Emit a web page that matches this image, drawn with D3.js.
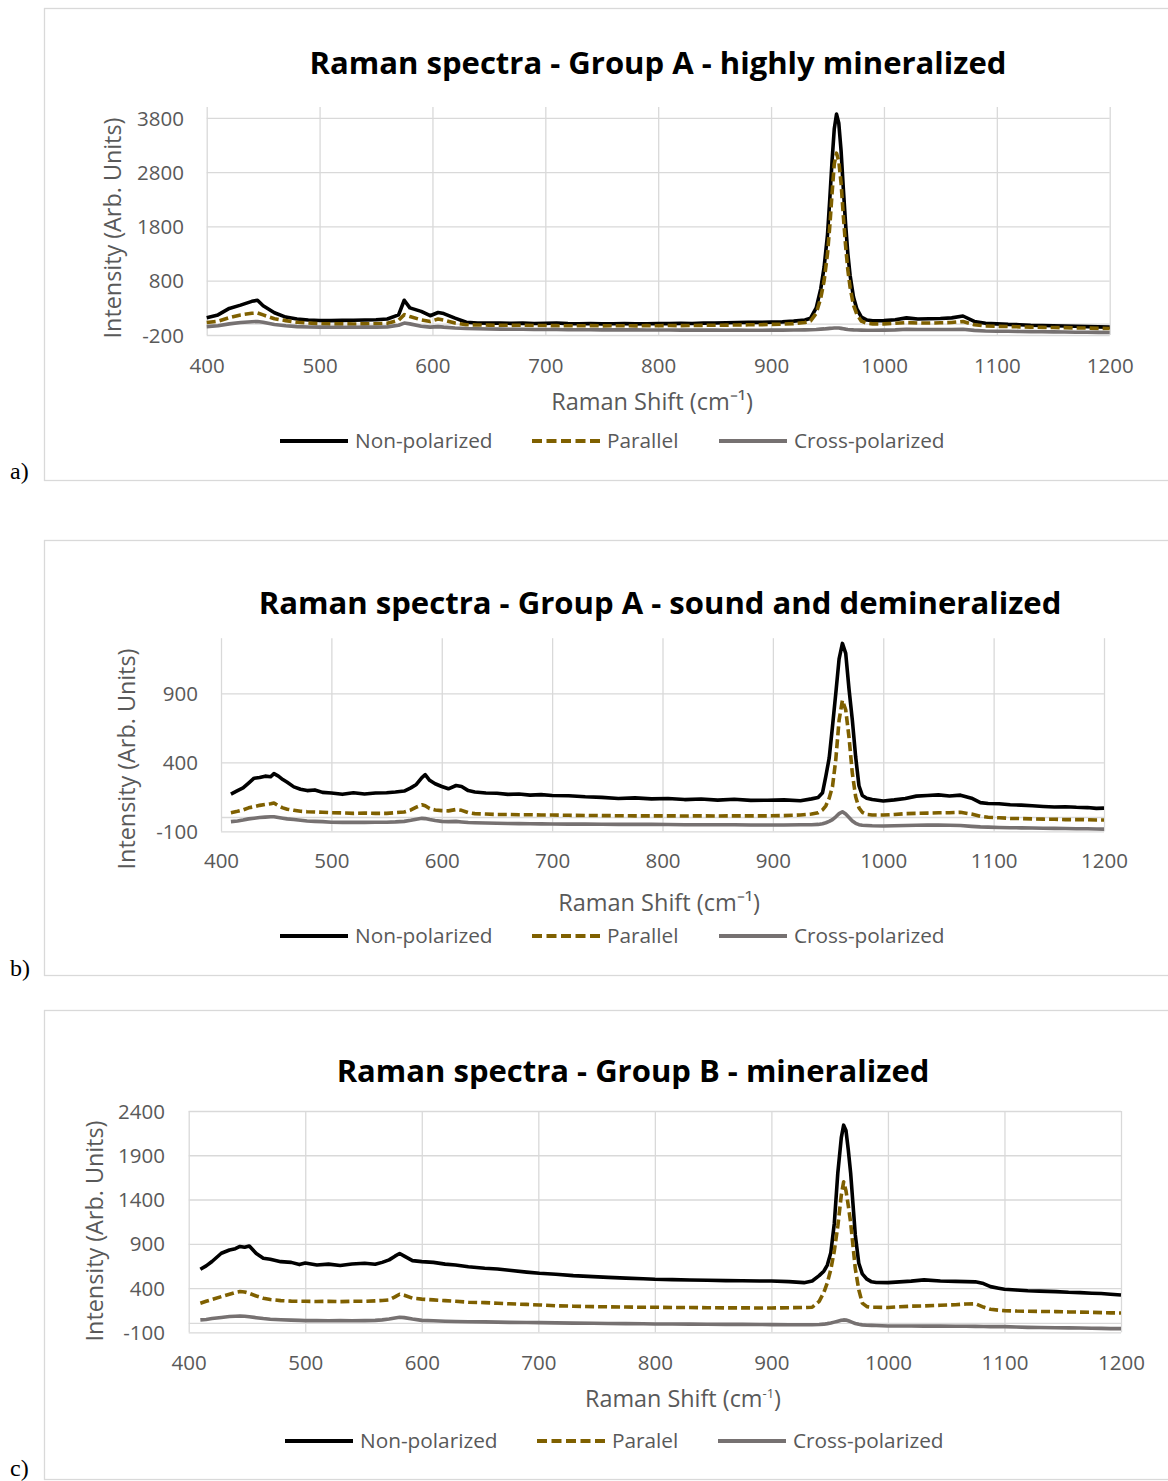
<!DOCTYPE html>
<html>
<head>
<meta charset="utf-8">
<style>
  body { margin: 0; background: #fff; }
  svg { display: block; }
  text { font-family: "Open Sans", sans-serif; fill: #595959; }
  .grid line { stroke: #d9d9d9; stroke-width: 1.3; }
  .title { fill: #000; font-weight: bold; }
  .panel-label { font-family: "Liberation Serif", serif; fill: #000; }
</style>
</head>
<body>
<script src="https://d3js.org/d3.v7.min.js"></script>
<script>
// ---- tick labels ----
var xTicks = [400, 500, 600, 700, 800, 900, 1000, 1100, 1200];
var yTicksA = [-200, 800, 1800, 2800, 3800];
var yTicksB = [-100, 400, 900];
var yTicksC = [-100, 400, 900, 1400, 1900, 2400];

// ---- panel a : Group A - highly mineralized ----
var shiftA = [
  400, 410, 420, 430, 440, 445, 450, 460, 470, 480,
  490, 500, 510, 520, 530, 540, 550, 560, 570, 575,
  580, 590, 598, 605, 610, 620, 630, 640, 650, 660,
  670, 680, 690, 700, 710, 720, 730, 740, 750, 760,
  770, 780, 790, 800, 810, 820, 830, 840, 850, 860,
  870, 880, 890, 900, 910, 920, 930, 935, 940, 944,
  947, 950, 952, 954, 956, 958, 960, 962, 964, 966,
  968, 970, 973, 976, 980, 985, 990, 1000, 1010, 1020,
  1030, 1040, 1050, 1060, 1070, 1080, 1090, 1100, 1110, 1120,
  1130, 1140, 1150, 1160, 1170, 1180, 1190, 1200];
var nonPolA = [
  120, 170, 290, 350, 420, 440, 340, 210, 130, 95,
  75, 68, 65, 70, 72, 75, 80, 95, 170, 440,
  300, 235, 155, 215, 195, 110, 35, 22, 18, 20,
  15, 18, 12, 15, 20, 10, 8, 12, 5, 8,
  10, 5, 8, 12, 10, 15, 12, 18, 22, 25,
  30, 35, 32, 38, 42, 55, 75, 110, 300, 650,
  1050, 1650, 2300, 3000, 3600, 3870, 3700, 3200, 2500, 1850,
  1300, 900, 500, 280, 130, 75, 62, 65, 80, 115,
  95, 100, 105, 115, 150, 50, 15, 5, -5, -10,
  -20, -25, -30, -35, -40, -45, -50, -55];
var parA = [
  30, 55, 120, 170, 200, 205, 170, 100, 65, 35,
  20, 8, 5, 5, 3, 5, 8, 15, 70, 175,
  140, 80, 50, 95, 75, 20, -10, -15, -18, -20,
  -22, -20, -25, -25, -28, -30, -30, -28, -32, -30,
  -30, -32, -28, -30, -25, -28, -25, -22, -20, -18,
  -15, -12, -10, -5, 0, 10, 30, 60, 200, 480,
  800, 1300, 1800, 2400, 2950, 3150, 3000, 2600, 2000, 1450,
  1000, 680, 350, 180, 55, 15, 5, 5, 15, 30,
  22, 20, 25, 30, 50, -10, -35, -40, -45, -50,
  -55, -60, -62, -65, -70, -72, -78, -80];
var crossA = [
  -45, -30, 5, 30, 45, 50, 35, -5, -30, -45,
  -52, -55, -56, -58, -56, -55, -55, -50, -20, 20,
  5, -40, -55, -45, -55, -70, -80, -85, -90, -92,
  -95, -95, -98, -100, -100, -102, -102, -104, -105, -105,
  -106, -106, -108, -108, -108, -110, -110, -110, -110, -112,
  -110, -112, -112, -110, -110, -108, -105, -102, -98, -92,
  -88, -82, -78, -75, -72, -70, -72, -78, -85, -92,
  -98, -102, -106, -108, -110, -112, -112, -110, -105, -95,
  -98, -100, -100, -98, -95, -115, -125, -130, -132, -135,
  -138, -140, -142, -145, -148, -150, -152, -155];

// ---- panel b : Group A - sound and demineralized ----
var shiftB = [
  409, 415, 420, 425, 430, 435, 440, 445, 448, 452,
  456, 460, 466, 472, 478, 485, 492, 500, 510, 520,
  530, 540, 550, 558, 566, 572, 577, 582, 585, 589,
  594, 600, 606, 613, 618, 624, 630, 640, 650, 660,
  670, 680, 690, 700, 715, 730, 745, 760, 775, 790,
  805, 820, 835, 850, 865, 880, 895, 910, 925, 935,
  941, 945, 948, 951, 954, 957, 960, 963, 966, 969,
  972, 975, 978, 981, 985, 990, 1000, 1010, 1020, 1030,
  1040, 1050, 1060, 1070, 1080, 1088, 1095, 1105, 1115, 1125,
  1135, 1145, 1155, 1165, 1175, 1185, 1193, 1200];
var nonPolB = [
  170, 195, 215, 250, 285, 290, 300, 295, 318, 300,
  275, 255, 222, 205, 195, 200, 182, 178, 168, 180,
  170, 178, 180, 185, 192, 215, 240, 290, 310, 270,
  245, 225, 208, 232, 225, 195, 185, 178, 176, 168,
  170, 162, 166, 160, 158, 150, 146, 138, 142, 135,
  138, 130, 134, 126, 132, 124, 125, 128, 122, 135,
  145, 180, 300, 430, 660, 900, 1150, 1262, 1190, 930,
  706, 440, 230, 160, 140, 130, 120, 128, 138, 155,
  160, 164, 156, 162, 140, 108, 102, 100, 92, 90,
  85, 80, 76, 78, 74, 72, 66, 68];
var parB = [
  35, 45, 55, 70, 78, 88, 95, 100, 105, 85,
  70, 60, 52, 45, 42, 40, 38, 35, 33, 30,
  32, 30, 30, 35, 40, 55, 75, 92, 85, 65,
  55, 50, 48, 58, 52, 35, 28, 25, 22, 22,
  20, 20, 18, 18, 16, 15, 14, 13, 12, 12,
  12, 11, 12, 11, 12, 12, 12, 14, 18, 25,
  35, 55, 85, 140, 223, 420, 706, 850, 780, 580,
  320, 150, 70, 38, 22, 18, 18, 22, 28, 30,
  32, 34, 35, 38, 25, 8, 2, -2, -6, -8,
  -10, -12, -13, -15, -15, -16, -18, -18];
var crossB = [
  -30, -25, -18, -10, -5, 0, 3, 6, 5, 0,
  -5, -10, -15, -20, -25, -28, -30, -34, -35, -34,
  -35, -34, -34, -32, -28, -20, -12, -6, -8, -15,
  -22, -28, -30, -28, -32, -36, -38, -40, -42, -43,
  -44, -45, -46, -47, -48, -48, -49, -50, -50, -50,
  -51, -52, -52, -53, -53, -54, -54, -54, -53, -52,
  -50, -45, -38, -28, -15, 5, 28, 42, 25, 0,
  -25, -42, -52, -56, -58, -60, -62, -60, -58, -56,
  -55, -55, -56, -58, -64, -68, -70, -72, -74, -75,
  -76, -78, -79, -80, -81, -82, -83, -84];

// ---- panel c : Group B - mineralized ----
var shiftC = [
  410, 415, 420, 428, 435, 440, 444, 448, 452, 458,
  464, 470, 479, 488, 495, 500, 510, 520, 530, 540,
  551, 560, 566, 572, 577, 581, 585, 592, 600, 610,
  620, 629, 640, 654, 665, 675, 690, 701, 715, 730,
  747, 760, 775, 790, 800, 815, 830, 845, 861, 875,
  890, 900, 915, 928, 935, 941, 945, 948, 951, 954,
  957, 960, 962, 964, 966, 968, 970, 972, 975, 978,
  982, 986, 990, 1000, 1010, 1020, 1031, 1045, 1058, 1067,
  1075, 1082, 1088, 1095, 1100, 1110, 1120, 1130, 1144, 1155,
  1165, 1175, 1183, 1191, 1200];
var nonPolC = [
  612, 650, 700, 793, 830, 845, 870, 860, 875, 790,
  737, 725, 698, 690, 665, 682, 660, 670, 655, 672,
  680, 668, 690, 718, 760, 790, 760, 710, 698, 690,
  670, 661, 640, 624, 615, 600, 580, 567, 555, 540,
  529, 520, 512, 505, 499, 495, 490, 488, 484, 482,
  480, 480, 472, 461, 480, 540, 590, 660, 800, 1132,
  1700, 2100, 2240, 2180, 1960, 1700, 1350, 1000, 680, 560,
  500, 470, 462, 461, 470, 478, 492, 480, 475, 473,
  470, 450, 416, 398, 386, 378, 370, 365, 360, 352,
  348, 342, 338, 330, 322];
var parC = [
  228, 250, 270, 303, 330, 350, 360, 355, 340, 310,
  285, 270, 258, 252, 250, 250, 248, 250, 246, 250,
  250, 255, 260, 266, 300, 330, 318, 285, 275, 266,
  258, 250, 240, 235, 228, 222, 215, 209, 200, 195,
  190, 188, 185, 183, 183, 180, 180, 178, 176, 176,
  175, 175, 178, 180, 183, 250, 350, 460, 610, 820,
  1100, 1450, 1600, 1500, 1330, 1140, 880, 620, 380, 230,
  190, 183, 183, 180, 188, 195, 198, 205, 212, 220,
  222, 185, 160, 150, 145, 140, 138, 136, 134, 130,
  128, 125, 122, 120, 118];
var crossC = [
  40, 45, 55, 68, 78, 82, 85, 82, 75, 65,
  55, 47, 42, 38, 35, 32, 32, 30, 32, 30,
  32, 35, 40, 50, 62, 70, 66, 50, 35, 30,
  25, 22, 20, 18, 15, 12, 10, 9, 6, 4,
  2, 0, -2, -4, -6, -7, -8, -9, -10, -11,
  -12, -13, -14, -15, -14, -12, -8, -2, 5, 15,
  25, 35, 40, 38, 30, 20, 10, 0, -10, -16,
  -20, -22, -24, -28, -28, -28, -30, -30, -32, -32,
  -33, -35, -36, -36, -36, -40, -44, -46, -48, -50,
  -52, -54, -56, -58, -59];

var namesAB = ["Non-polarized", "Parallel", "Cross-polarized"];
var namesC = ["Non-polarized", "Paralel", "Cross-polarized"];

// line styles for the three series (black, dark gold dashed, grey)
var styles = [
  {color: "#000000", width: 3.6, dash: null},
  {color: "#7f6000", width: 3.6, dash: "9,4"},
  {color: "#767171", width: 3.6, dash: null}
];

var panels = [
  {label: "a)", labelY: 479, box: [8, 480],
   title: "Raman spectra - Group A - highly mineralized", titleX: 658, titleY: 63, titleW: 697,
   plot: {left: 206.7, right: 1109.7, top: 107, bottom: 335}, yDomain: [-200, 4000], yTicks: yTicksA,
   yLabelRight: 184, xLabelY: 366, xTitle: "a", xTitleX: 652, xTitleY: 402, yTitleX: 113, yTitleY: 228,
   legendY: 441, legendX: [280, 532, 719], names: namesAB,
   x: shiftA, series: [nonPolA, parA, crossA]},
  {label: "b)", labelY: 976, box: [540, 975],
   title: "Raman spectra - Group A - sound and demineralized", titleX: 660, titleY: 603, titleW: 803,
   plot: {left: 221, right: 1104, top: 638.2, bottom: 831.3}, yDomain: [-100, 1300], yTicks: yTicksB,
   yLabelRight: 198, xLabelY: 861, xTitle: "a", xTitleX: 659, xTitleY: 903, yTitleX: 127, yTitleY: 759,
   legendY: 936, legendX: [280, 532, 719], names: namesAB,
   x: shiftB, series: [nonPolB, parB, crossB]},
  {label: "c)", labelY: 1476, box: [1010, 1479],
   title: "Raman spectra - Group B - mineralized", titleX: 633, titleY: 1071, titleW: 593,
   plot: {left: 188.7, right: 1121, top: 1111, bottom: 1332.3}, yDomain: [-100, 2400], yTicks: yTicksC,
   yLabelRight: 165, xLabelY: 1363, xTitle: "c", xTitleX: 683, xTitleY: 1399, yTitleX: 95, yTitleY: 1231,
   legendY: 1441, legendX: [285, 537, 718], names: namesC,
   x: shiftC, series: [nonPolC, parC, crossC]}
];

var svg = d3.select("body").append("svg")
    .attr("width", 1168)
    .attr("height", 1481);

// scale a text's font size so that it spans the wanted width
function fitWidth(t, w) {
  var len = t.node().getComputedTextLength();
  var fs = parseFloat(t.attr("font-size"));
  t.attr("font-size", (fs * w / len).toFixed(2));
}

panels.forEach(function(p) {
  var g = svg.append("g");

  // chart area border
  g.append("rect")
      .attr("x", 44.5).attr("y", p.box[0] + 0.5)
      .attr("width", 1140).attr("height", p.box[1] - p.box[0])
      .attr("fill", "none").attr("stroke", "#d9d9d9").attr("stroke-width", 1.3);

  g.append("text").attr("class", "panel-label")
      .attr("x", 10).attr("y", p.labelY)
      .attr("font-size", 24)
      .text(p.label);

  var x = d3.scaleLinear().domain([400, 1200]).range([p.plot.left, p.plot.right]);
  var y = d3.scaleLinear().domain(p.yDomain).range([p.plot.bottom, p.plot.top]);
  var pw = p.plot.right - p.plot.left, ph = p.plot.bottom - p.plot.top;

  // gridlines
  g.append("g").attr("class", "grid")
      .attr("transform", "translate(0," + p.plot.bottom + ")")
      .call(d3.axisBottom(x).tickValues(xTicks).tickSize(-ph).tickFormat(""))
      .call(function(a) { a.select(".domain").remove(); });
  g.append("g").attr("class", "grid")
      .attr("transform", "translate(" + p.plot.left + ",0)")
      .call(d3.axisLeft(y).tickValues(p.yTicks).tickSize(-pw).tickFormat(""))
      .call(function(a) { a.select(".domain").remove(); });

  // horizontal axis line crosses at 0
  g.append("line")
      .attr("x1", p.plot.left).attr("x2", p.plot.right)
      .attr("y1", y(0)).attr("y2", y(0))
      .attr("stroke", "#d9d9d9").attr("stroke-width", 1.3);

  // tick labels (plain numbers, hyphen minus)
  var plain = function(d) { return String(d); };
  var yAx = g.append("g")
      .attr("transform", "translate(" + p.plot.left + ",0)")
      .call(d3.axisLeft(y).tickValues(p.yTicks).tickSize(0)
          .tickPadding(p.plot.left - p.yLabelRight).tickFormat(plain))
      .attr("font-family", null).attr("font-size", 20.5);
  yAx.select(".domain").remove();
  yAx.selectAll("text").attr("fill", "#595959").attr("dy", "0.35em");

  var xAx = g.append("g")
      .attr("transform", "translate(0," + p.plot.bottom + ")")
      .call(d3.axisBottom(x).tickValues(xTicks).tickSize(0)
          .tickPadding(p.xLabelY - p.plot.bottom).tickFormat(plain))
      .attr("font-family", null).attr("font-size", 20.5);
  xAx.select(".domain").remove();
  xAx.selectAll("text").attr("fill", "#595959").attr("dy", "0.35em");

  // spectra
  var line = d3.line()
      .x(function(d) { return x(d[0]); })
      .y(function(d) { return y(d[1]); });
  p.series.forEach(function(vals, i) {
    var st = styles[i];
    g.append("path")
        .datum(d3.zip(p.x, vals))
        .attr("d", line)
        .attr("fill", "none")
        .attr("stroke", st.color)
        .attr("stroke-width", st.width)
        .attr("stroke-linejoin", "round")
        .attr("stroke-dasharray", st.dash);
  });

  // title
  var title = g.append("text").attr("class", "title")
      .attr("x", p.titleX).attr("y", p.titleY)
      .attr("dy", "0.35em")
      .attr("text-anchor", "middle")
      .attr("font-size", 30)
      .text(p.title);
  fitWidth(title, p.titleW);

  // axis titles
  var xt = g.append("text")
      .attr("x", p.xTitleX).attr("y", p.xTitleY)
      .attr("dy", "0.35em")
      .attr("text-anchor", "middle")
      .attr("font-size", 20);
  if (p.xTitle === "c") {
    xt.append("tspan").text("Raman Shift (cm");
    xt.append("tspan").attr("font-size", 13).attr("baseline-shift", "super").text("-1");
    xt.append("tspan").text(")");
    fitWidth(xt, 198);
  } else {
    xt.text("Raman Shift (cm\u207B\u00B9)");
    fitWidth(xt, 202);
  }

  var yt = g.append("text")
      .attr("transform", "translate(" + p.yTitleX + "," + p.yTitleY + ") rotate(-90)")
      .attr("dy", "0.35em")
      .attr("text-anchor", "middle")
      .attr("font-size", 20)
      .text("Intensity (Arb. Units)");
  fitWidth(yt, 221);

  // legend
  p.names.forEach(function(name, i) {
    var st = styles[i];
    var lx = p.legendX[i];
    g.append("line")
        .attr("x1", lx).attr("x2", lx + 68)
        .attr("y1", p.legendY).attr("y2", p.legendY)
        .attr("stroke", st.color)
        .attr("stroke-width", 3.8)
        .attr("stroke-dasharray", st.dash ? "10,4.5" : null);
    g.append("text")
        .attr("x", lx + 75).attr("y", p.legendY)
        .attr("dy", "0.35em")
        .attr("font-size", 20.8)
        .text(name);
  });
});
</script>
</body>
</html>
